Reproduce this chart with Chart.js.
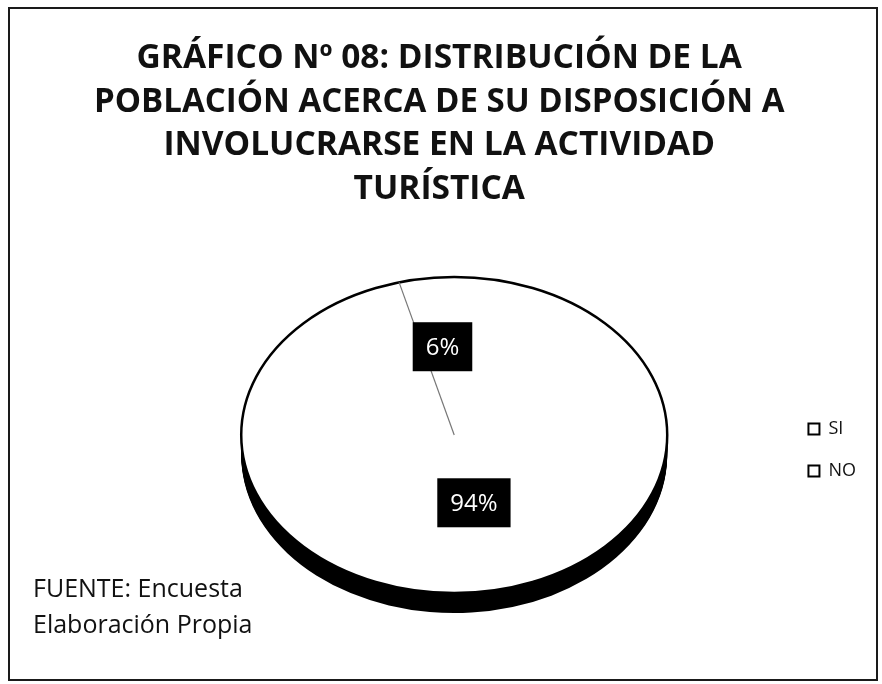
<!DOCTYPE html>
<html>
<head>
<meta charset="utf-8">
<script src="https://cdn.jsdelivr.net/npm/chart.js@4.4.1/dist/chart.umd.min.js"></script>
<style>
  body { margin: 0; background: #fff; }
  #wrap { position: relative; width: 882px; height: 684px; }
  #frame { position: absolute; left: 8px; top: 7px; width: 866px; height: 670px; border: 2px solid #1a1a1a; pointer-events: none; }
  #source { position: absolute; left: 33px; top: 569px; font: 25px/36px 'Open Sans', sans-serif; color: #111; }
</style>
</head>
<body>
<div id="wrap">
  <canvas id="pieChart" width="882" height="684"></canvas>
  <div id="frame"></div>
  <div id="source">FUENTE: Encuesta<br>Elaboración Propia</div>
</div>
<script>
// data
const categories = ['SI', 'NO'];
const percentages = [6, 94];
const titleLines = [
    'GRÁFICO Nº 08: DISTRIBUCIÓN DE LA',
    'POBLACIÓN ACERCA DE SU DISPOSICIÓN A',
    'INVOLUCRARSE EN LA ACTIVIDAD',
    'TURÍSTICA'
];

// look of the 3d pie
const TILT = 0.742;      // vertical squash of the top face
const DEPTH = 20;        // thickness of the side
const PIE_DX = 15;       // nudge of the pie against the chart area centre
const PIE_CY = 435;      // screen y of the top face centre
const labelRadius = [0.56, 0.43];
const labelNudgeX = [-3, 13];

function toScreen(arc, x, y) {
    return { x: x + PIE_DX, y: PIE_CY + (y - arc.y) * TILT };
}

const pie3d = {
    id: 'pie3d',
    beforeDatasetsDraw(chart) {
        const ctx = chart.ctx;
        const arcs = chart.getDatasetMeta(0).data;
        ctx.save();
        ctx.fillStyle = '#000';
        for (let d = DEPTH; d >= 1; d--) {
            arcs.forEach(a => {
                const c = toScreen(a, a.x, a.y);
                ctx.beginPath();
                ctx.moveTo(c.x, c.y + d);
                ctx.ellipse(c.x, c.y + d, a.outerRadius, a.outerRadius * TILT, 0, a.startAngle, a.endAngle);
                ctx.closePath();
                ctx.fill();
            });
        }
        // white base so the slice seams do not show the side through
        const a0 = arcs[0];
        const c0 = toScreen(a0, a0.x, a0.y);
        ctx.fillStyle = '#fff';
        ctx.beginPath();
        ctx.ellipse(c0.x, c0.y, a0.outerRadius, a0.outerRadius * TILT, 0, 0, Math.PI * 2);
        ctx.fill();
        ctx.restore();

        // tilt the top face drawn by the library
        ctx.save();
        ctx.translate(a0.x + PIE_DX, PIE_CY);
        ctx.scale(1, TILT);
        ctx.translate(-a0.x, -a0.y);
    },
    afterDatasetsDraw(chart) {
        const ctx = chart.ctx;
        ctx.restore();
        const arcs = chart.getDatasetMeta(0).data;
        const a0 = arcs[0];
        const c = toScreen(a0, a0.x, a0.y);
        const r = a0.outerRadius;

        ctx.save();
        // outline of the top face
        ctx.strokeStyle = '#000';
        ctx.lineWidth = 2.5;
        ctx.beginPath();
        ctx.ellipse(c.x, c.y, r, r * TILT, 0, 0, Math.PI * 2);
        ctx.stroke();

        // faint separator on the SI slice
        ctx.strokeStyle = '#777';
        ctx.lineWidth = 1.2;
        ctx.beginPath();
        ctx.moveTo(c.x, c.y);
        ctx.lineTo(c.x + r * Math.cos(a0.startAngle), c.y + r * TILT * Math.sin(a0.startAngle));
        ctx.stroke();

        // data labels in black boxes
        ctx.font = '24px "Open Sans"';
        ctx.textAlign = 'center';
        ctx.textBaseline = 'middle';
        arcs.forEach((a, i) => {
            const mid = (a.startAngle + a.endAngle) / 2;
            const p = toScreen(a, a.x + Math.cos(mid) * r * labelRadius[i], a.y + Math.sin(mid) * r * labelRadius[i]);
            p.x += labelNudgeX[i];
            const txt = percentages[i] + '%';
            const w = ctx.measureText(txt).width + 26;
            const h = 49;
            ctx.fillStyle = '#000';
            ctx.fillRect(p.x - w / 2, p.y - h / 2, w, h);
            ctx.fillStyle = '#fff';
            ctx.fillText(txt, p.x, p.y + 1);
        });
        ctx.restore();
    }
};

const ctx = document.getElementById('pieChart').getContext('2d');
const pieChart = new Chart(ctx, {
    type: 'pie',
    data: {
        labels: categories,
        datasets: [{
            data: percentages,
            backgroundColor: ['#ffffff', '#ffffff'],
            borderWidth: 0,
            radius: 213
        }]
    },
    options: {
        responsive: false,
        animation: false,
        rotation: -15,
        layout: { padding: { left: 94, right: 16, top: 0, bottom: 4 } },
        plugins: {
            title: {
                display: true,
                text: titleLines,
                fullSize: false,
                color: '#111',
                font: { family: 'Open Sans', weight: 'bold', size: 33.5, lineHeight: 1.3 },
                padding: { top: 37, bottom: 9 }
            },
            legend: {
                position: 'right',
                fullSize: false,
                labels: {
                    boxWidth: 11,
                    boxHeight: 11,
                    padding: 24,
                    color: '#111',
                    font: { family: 'Open Sans', size: 18 },
                    generateLabels(chart) {
                        const items = Chart.overrides.doughnut.plugins.legend.labels.generateLabels(chart);
                        return items.map(it => Object.assign(it, { fillStyle: '#fff', strokeStyle: '#000', lineWidth: 2 }));
                    }
                }
            },
            tooltip: { enabled: false }
        }
    },
    plugins: [pie3d]
});
</script>
</body>
</html>
